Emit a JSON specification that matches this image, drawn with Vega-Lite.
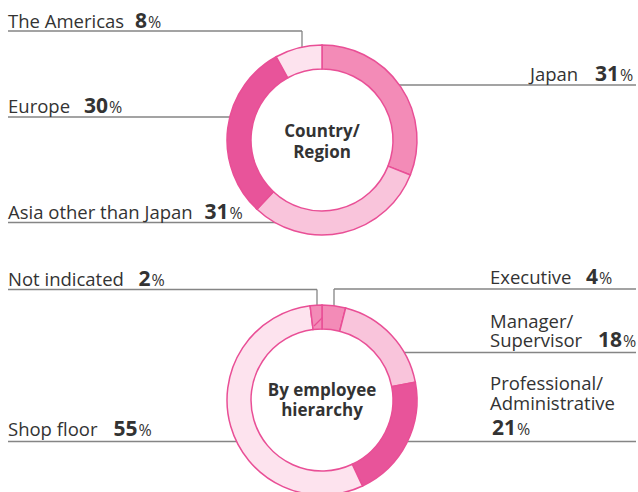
{
  "$schema": "https://vega.github.io/schema/vega-lite/v6.json",
  "width": 638,
  "height": 492,
  "padding": 0,
  "autosize": {"type": "none"},
  "background": "white",
  "config": {"view": {"stroke": null}, "font": "Open Sans"},
  "datasets": {
    "segments": [
      {"chart": "Country/Region", "category": "Japan", "value": 31, "order": 1},
      {"chart": "Country/Region", "category": "Asia other than Japan", "value": 31, "order": 2},
      {"chart": "Country/Region", "category": "Europe", "value": 30, "order": 3},
      {"chart": "Country/Region", "category": "The Americas", "value": 8, "order": 4},
      {"chart": "By employee hierarchy", "category": "Executive", "value": 4, "order": 1},
      {"chart": "By employee hierarchy", "category": "Manager/Supervisor", "value": 18, "order": 2},
      {"chart": "By employee hierarchy", "category": "Professional/Administrative", "value": 21, "order": 3},
      {"chart": "By employee hierarchy", "category": "Shop floor", "value": 55, "order": 4},
      {"chart": "By employee hierarchy", "category": "Not indicated", "value": 2, "order": 5}
    ],
    "names": [
      {"text": "The Americas", "lx": 8, "ly": 27.5},
      {"text": "Japan", "lx": 530, "ly": 81},
      {"text": "Europe", "lx": 8, "ly": 112.5},
      {"text": "Asia other than Japan", "lx": 8, "ly": 219},
      {"text": "Not indicated", "lx": 8, "ly": 285.5},
      {"text": "Executive", "lx": 490, "ly": 283.5},
      {"text": "Manager/", "lx": 490, "ly": 327.5},
      {"text": "Supervisor", "lx": 490, "ly": 347},
      {"text": "Professional/", "lx": 490, "ly": 390},
      {"text": "Administrative", "lx": 490, "ly": 410},
      {"text": "Shop floor", "lx": 8, "ly": 436}
    ],
    "numbers": [
      {"category": "The Americas", "px": 147, "ny": 27.5},
      {"category": "Japan", "px": 619, "ny": 81},
      {"category": "Europe", "px": 108, "ny": 112.5},
      {"category": "Asia other than Japan", "px": 228.5, "ny": 219},
      {"category": "Not indicated", "px": 150.5, "ny": 285.5},
      {"category": "Executive", "px": 598, "ny": 283.5},
      {"category": "Manager/Supervisor", "px": 622, "ny": 347},
      {"category": "Professional/Administrative", "px": 516, "ny": 435},
      {"category": "Shop floor", "px": 137.5, "ny": 436}
    ],
    "leaders": [
      {"x": 8, "y": 31, "x2": 302, "y2": 31},
      {"x": 302, "y": 31, "x2": 302, "y2": 52},
      {"x": 390, "y": 85, "x2": 636, "y2": 85},
      {"x": 8, "y": 117, "x2": 240, "y2": 117},
      {"x": 8, "y": 222.5, "x2": 290, "y2": 222.5},
      {"x": 8, "y": 289.5, "x2": 317, "y2": 289.5},
      {"x": 317, "y": 289.5, "x2": 317, "y2": 312},
      {"x": 334, "y": 289, "x2": 636, "y2": 289},
      {"x": 334, "y": 289, "x2": 334, "y2": 312},
      {"x": 395, "y": 352.5, "x2": 636, "y2": 352.5},
      {"x": 395, "y": 441.5, "x2": 636, "y2": 441.5},
      {"x": 8, "y": 441.5, "x2": 250, "y2": 441.5}
    ],
    "titles": [
      {"chart": "Country/Region", "title": ["Country/", "Region"]},
      {"chart": "By employee hierarchy", "title": ["By employee", "hierarchy"]}
    ]
  },
  "layer": [
    {
      "data": {"name": "leaders"},
      "mark": {"type": "rule", "stroke": "#858585", "strokeWidth": 1.3},
      "encoding": {
        "x": {"field": "x", "type": "quantitative", "scale": {"domain": [0, 638], "nice": false, "zero": false}, "axis": null},
        "y": {"field": "y", "type": "quantitative", "scale": {"domain": [0, 492], "nice": false, "zero": false, "reverse": true}, "axis": null},
        "x2": {"field": "x2"},
        "y2": {"field": "y2"}
      }
    },
    {
      "data": {"name": "segments"},
      "transform": [{"filter": "datum.chart === 'Country/Region'"}],
      "mark": {"type": "arc", "innerRadius": 71, "outerRadius": 95, "stroke": "#e94f96", "strokeWidth": 1.5},
      "encoding": {
        "theta": {"field": "value", "type": "quantitative", "stack": true},
        "order": {"field": "order", "type": "quantitative"},
        "color": {"field": "category", "type": "nominal", "legend": null,
          "scale": {"domain": ["Japan", "Asia other than Japan", "Europe", "The Americas", "Executive", "Manager/Supervisor", "Professional/Administrative", "Shop floor", "Not indicated"],
                    "range": ["#f38bb7", "#f9c4db", "#e8549a", "#fde3ee", "#f38bb7", "#f9c4db", "#e8549a", "#fde3ee", "#f38bb7"]}},
        "x": {"datum": 322, "type": "quantitative", "scale": {"domain": [0, 638], "nice": false, "zero": false}, "axis": null},
        "y": {"datum": 140, "type": "quantitative", "scale": {"domain": [0, 492], "nice": false, "zero": false, "reverse": true}, "axis": null}
      }
    },
    {
      "data": {"name": "segments"},
      "transform": [{"filter": "datum.chart === 'By employee hierarchy'"}],
      "mark": {"type": "arc", "innerRadius": 71, "outerRadius": 95, "stroke": "#e94f96", "strokeWidth": 1.5},
      "encoding": {
        "theta": {"field": "value", "type": "quantitative", "stack": true},
        "order": {"field": "order", "type": "quantitative"},
        "color": {"field": "category", "type": "nominal", "legend": null,
          "scale": {"domain": ["Japan", "Asia other than Japan", "Europe", "The Americas", "Executive", "Manager/Supervisor", "Professional/Administrative", "Shop floor", "Not indicated"],
                    "range": ["#f38bb7", "#f9c4db", "#e8549a", "#fde3ee", "#f38bb7", "#f9c4db", "#e8549a", "#fde3ee", "#f38bb7"]}},
        "x": {"datum": 322, "type": "quantitative", "scale": {"domain": [0, 638], "nice": false, "zero": false}, "axis": null},
        "y": {"datum": 400, "type": "quantitative", "scale": {"domain": [0, 492], "nice": false, "zero": false, "reverse": true}, "axis": null}
      }
    },
    {
      "data": {"values": [{"x": 314, "y": 326, "x2": 322.5, "y2": 317.5}]},
      "mark": {"type": "rule", "stroke": "#e94f96", "strokeWidth": 1.2},
      "encoding": {
        "x": {"field": "x", "type": "quantitative", "scale": {"domain": [0, 638], "nice": false, "zero": false}, "axis": null},
        "y": {"field": "y", "type": "quantitative", "scale": {"domain": [0, 492], "nice": false, "zero": false, "reverse": true}, "axis": null},
        "x2": {"field": "x2"},
        "y2": {"field": "y2"}
      }
    },
    {
      "data": {"name": "names"},
      "mark": {"type": "text", "align": "left", "baseline": "alphabetic", "fontSize": 18.5, "color": "#333333"},
      "encoding": {
        "x": {"field": "lx", "type": "quantitative", "scale": {"domain": [0, 638], "nice": false, "zero": false}, "axis": null},
        "y": {"field": "ly", "type": "quantitative", "scale": {"domain": [0, 492], "nice": false, "zero": false, "reverse": true}, "axis": null},
        "text": {"field": "text", "type": "nominal"}
      }
    },
    {
      "data": {"name": "numbers"},
      "transform": [{"lookup": "category", "from": {"data": {"name": "segments"}, "key": "category", "fields": ["value"]}}],
      "mark": {"type": "text", "align": "right", "baseline": "alphabetic", "fontSize": 21, "fontWeight": "bold", "color": "#333333"},
      "encoding": {
        "x": {"field": "px", "type": "quantitative", "scale": {"domain": [0, 638], "nice": false, "zero": false}, "axis": null},
        "y": {"field": "ny", "type": "quantitative", "scale": {"domain": [0, 492], "nice": false, "zero": false, "reverse": true}, "axis": null},
        "text": {"field": "value", "type": "quantitative", "format": "d"}
      }
    },
    {
      "data": {"name": "numbers"},
      "mark": {"type": "text", "align": "left", "baseline": "alphabetic", "fontSize": 16, "color": "#333333", "text": "%", "dx": 1},
      "encoding": {
        "x": {"field": "px", "type": "quantitative", "scale": {"domain": [0, 638], "nice": false, "zero": false}, "axis": null},
        "y": {"field": "ny", "type": "quantitative", "scale": {"domain": [0, 492], "nice": false, "zero": false, "reverse": true}, "axis": null}
      }
    },
    {
      "data": {"name": "titles"},
      "transform": [{"filter": "datum.chart === 'Country/Region'"}],
      "mark": {"type": "text", "align": "center", "baseline": "alphabetic", "fontSize": 17, "fontWeight": "bold", "color": "#333333", "lineBreak": "\n", "lineHeight": 21.5},
      "encoding": {
        "x": {"datum": 322, "type": "quantitative", "scale": {"domain": [0, 638], "nice": false, "zero": false}, "axis": null},
        "y": {"datum": 136.5, "type": "quantitative", "scale": {"domain": [0, 492], "nice": false, "zero": false, "reverse": true}, "axis": null},
        "text": {"field": "title", "type": "nominal"}
      }
    },
    {
      "data": {"name": "titles"},
      "transform": [{"filter": "datum.chart === 'By employee hierarchy'"}],
      "mark": {"type": "text", "align": "center", "baseline": "alphabetic", "fontSize": 17, "fontWeight": "bold", "color": "#333333", "lineBreak": "\n", "lineHeight": 20},
      "encoding": {
        "x": {"datum": 322, "type": "quantitative", "scale": {"domain": [0, 638], "nice": false, "zero": false}, "axis": null},
        "y": {"datum": 396, "type": "quantitative", "scale": {"domain": [0, 492], "nice": false, "zero": false, "reverse": true}, "axis": null},
        "text": {"field": "title", "type": "nominal"}
      }
    }
  ]
}
